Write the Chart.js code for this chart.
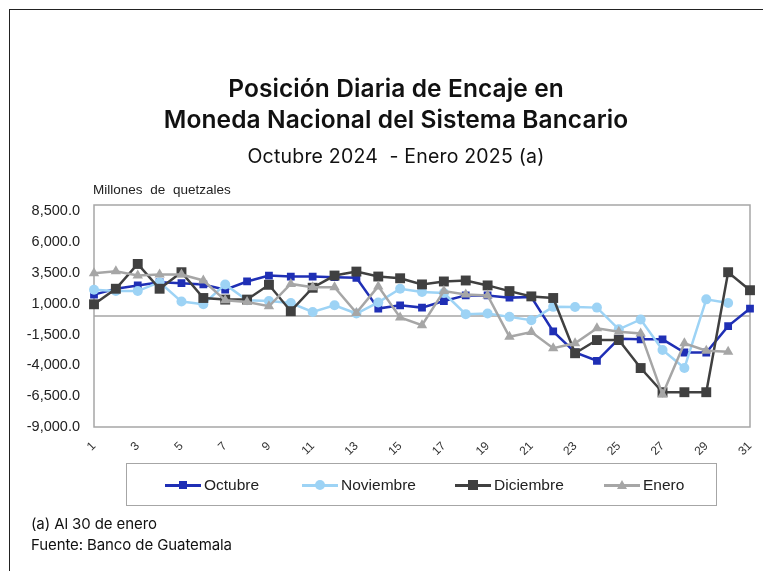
<!DOCTYPE html>
<html>
<head>
<meta charset="utf-8">
<script src="https://cdn.jsdelivr.net/npm/chart.js@4.4.1/dist/chart.umd.min.js"></script>
<style>
  body { margin: 0; background: #fff; }
  #wrap { position: relative; width: 769px; height: 571px; overflow: hidden; }
  #frame { position: absolute; left: 9px; top: 9px; width: 753px; height: 600px;
           border-left: 1.5px solid #222; border-top: 1.5px solid #222; }
  canvas { position: absolute; left: 0; top: 0; }
  .t { position: absolute; left: 0; width: 792px; text-align: center; color: #111;
       font-family: Inter, sans-serif; white-space: nowrap; }
  .t1 { font-size: 24.5px; line-height: 24px; font-weight: 600; letter-spacing: 0.1px; }
  .t2 { font-size: 19.5px; line-height: 20px; font-weight: 400; letter-spacing: 0.2px; }
  #unit { position: absolute; left: 93px; top: 182px; font: 13.5px "Liberation Sans", Arial, sans-serif;
          word-spacing: 4px; color: #222; }
  #legend { position: absolute; left: 126px; top: 463px; width: 589px; height: 41px;
            border: 1.5px solid #a6a6a6; font: 15.5px "Liberation Sans", Arial, sans-serif; color: #222; }
  .item { position: absolute; top: 12px; height: 18px; line-height: 18px; }
  .ln { position: absolute; top: 8px; left: 0; width: 36px; height: 2.5px; }
  .mk { position: absolute; }
  .lab { position: absolute; left: 39px; top: 0; }
  .foot { position: absolute; left: 31px; font: 15px Inter, sans-serif; color: #111; letter-spacing: -0.1px; }
</style>
</head>
<body>
<div id="wrap">
  <div id="frame"></div>
  <canvas id="chart" width="769" height="571"></canvas>
  <div class="t t1" style="top:76px">Posición Diaria de Encaje en</div>
  <div class="t t1" style="top:107px">Moneda Nacional del Sistema Bancario</div>
  <div class="t t2" style="top:146px">Octubre 2024&nbsp; - Enero 2025 (a)</div>
  <div id="unit">Millones de quetzales</div>
  <div id="legend"></div>
  <div class="foot" style="top:514px">(a) Al 30 de enero</div>
  <div class="foot" style="top:535px">Fuente: Banco de Guatemala</div>
</div>
<script>
var days = [];
for (var d = 1; d <= 31; d++) days.push(String(d));

var yTicks = [-9000, -6500, -4000, -1500, 1000, 3500, 6000, 8500];

var octubre = [1730, 2210, 2480, 2740, 2660, 2560, 2130, 2800, 3280, 3200, 3200, 3150, 3100, 600, 870, 680,
  1210, 1670, 1670, 1490, 1540, -1250, -2950, -3630, -1850, -1890, -1890, -2960, -2960, -820, 600];
var noviembre = [2130, 2020, 2020, 2740, 1170, 950, 2560, 1270, 1220, 1050, 330, 870, 200, 1100, 2210, 1940,
  1860, 150, 200, -70, -340, 740, 730, 680, -1080, -280, -2750, -4220, 1350, 1050];
var diciembre = [950, 2210, 4220, 2210, 3550, 1460, 1330, 1330, 2530, 390, 2290, 3280, 3600, 3200, 3060, 2560,
  2800, 2880, 2480, 2020, 1590, 1460, -3020, -1950, -1950, -4220, -6180, -6180, -6180, 3550, 2090];
var enero = [3470, 3630, 3280, 3360, 3360, 2880, 1270, 1140, 790, 2600, 2340, 2340, 250, 2400, -120, -740,
  2020, 1750, 1670, -1680, -1300, -2610, -2210, -1000, -1280, -1410, -6370, -2210, -2810, -2890];

var series = [
  { label: 'Octubre', data: octubre, color: '#1f2fb5', style: 'rect', radius: 5.5, order: 3 },
  { label: 'Noviembre', data: noviembre, color: '#9dd3f5', style: 'circle', radius: 5, order: 2 },
  { label: 'Diciembre', data: diciembre, color: '#404040', style: 'rect', radius: 7, order: 1 },
  { label: 'Enero', data: enero, color: '#a6a6a6', style: 'triangle', radius: 6, order: 0 }
];

// frame round the plot + the zero line
var framePlugin = {
  id: 'frame',
  beforeDatasetsDraw: function(chart) {
    var a = chart.chartArea, ctx = chart.ctx;
    var y0 = chart.scales.y.getPixelForValue(0);
    ctx.save();
    ctx.strokeStyle = '#a6a6a6';
    ctx.lineWidth = 1.5;
    ctx.strokeRect(a.left, a.top, a.right - a.left, a.bottom - a.top);
    ctx.beginPath();
    ctx.moveTo(a.left, y0);
    ctx.lineTo(a.right, y0);
    ctx.stroke();
    ctx.restore();
  }
};

var ctx = document.getElementById('chart');
new Chart(ctx, {
  type: 'line',
  data: {
    labels: days,
    datasets: series.map(function(s) {
      return {
        label: s.label,
        data: s.data,
        borderColor: s.color,
        backgroundColor: s.color,
        borderWidth: 2.5,
        pointStyle: s.style,
        pointRadius: s.radius,
        pointHoverRadius: s.radius,
        pointBorderWidth: 0,
        tension: 0,
        order: s.order
      };
    })
  },
  options: {
    responsive: false,
    animation: false,
    layout: { padding: { left: 0, right: 19, top: 205, bottom: 104 } },
    plugins: { legend: { display: false }, tooltip: { enabled: false } },
    scales: {
      x: {
        offset: false,
        grid: { display: false },
        border: { display: false },
        afterFit: function(scale) { scale.height = 40; },
        ticks: {
          autoSkip: false,
          minRotation: 45,
          maxRotation: 45,
          padding: 4,
          color: '#333',
          font: { family: 'Liberation Sans, Arial', size: 12 },
          callback: function(v, i) { return i % 2 === 0 ? days[i] : ''; }
        }
      },
      y: {
        min: -9000,
        max: 9000,
        grid: { display: false },
        border: { display: false },
        afterFit: function(scale) { scale.width = 94; },
        afterBuildTicks: function(scale) {
          scale.ticks = yTicks.map(function(v) { return { value: v }; });
        },
        ticks: {
          padding: 6,
          color: '#222',
          font: { family: 'Liberation Sans, Arial', size: 14.5 },
          callback: function(v) {
            return v.toLocaleString('en-US', { minimumFractionDigits: 1, maximumFractionDigits: 1 });
          }
        }
      }
    }
  },
  plugins: [framePlugin]
});

// legend: line with marker, like the original
var lg = document.getElementById('legend');
var itemX = [38, 175, 328, 477];
series.forEach(function(s, i) {
  var it = document.createElement('div');
  it.className = 'item';
  it.style.left = itemX[i] + 'px';
  var ln = document.createElement('div');
  ln.className = 'ln';
  ln.style.background = s.color;
  it.appendChild(ln);
  var mk = document.createElement('div');
  mk.className = 'mk';
  if (s.style === 'circle') {
    mk.style.cssText = 'left:13px;top:4px;width:10px;height:10px;border-radius:5px;background:' + s.color;
  } else if (s.style === 'triangle') {
    mk.style.cssText = 'left:13px;top:4px;width:0;height:0;border-left:5px solid transparent;border-right:5px solid transparent;border-bottom:9px solid ' + s.color;
  } else {
    var sz = s.label === 'Diciembre' ? 10 : 8;
    mk.style.cssText = 'left:' + (18 - sz / 2) + 'px;top:' + (9 - sz / 2) + 'px;width:' + sz + 'px;height:' + sz + 'px;background:' + s.color;
  }
  it.appendChild(mk);
  var lab = document.createElement('div');
  lab.className = 'lab';
  lab.textContent = s.label;
  it.appendChild(lab);
  lg.appendChild(it);
});
</script>
</body>
</html>
